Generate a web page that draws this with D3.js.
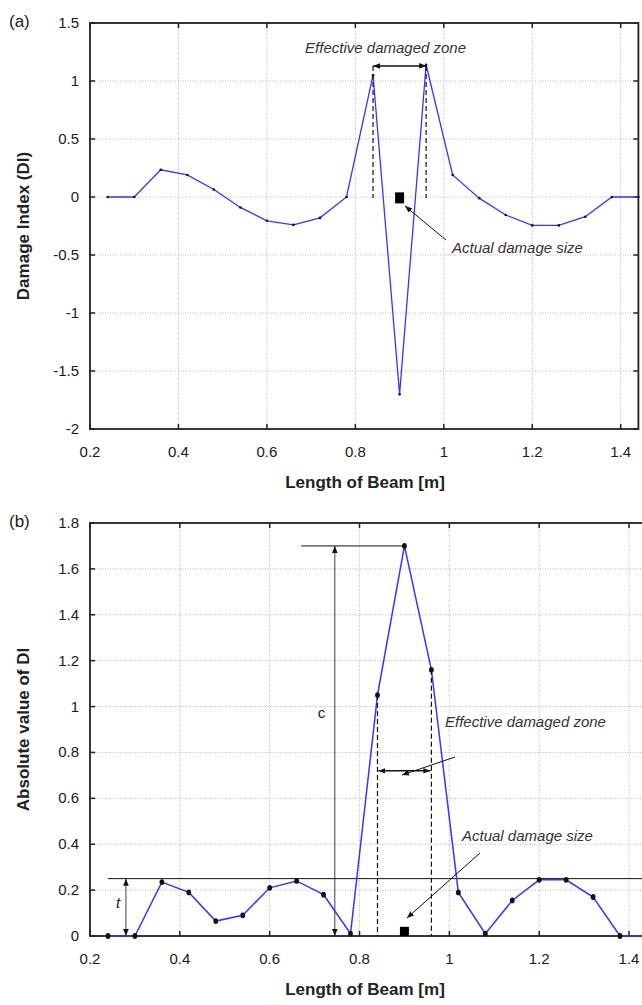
<!DOCTYPE html>
<meta charset="utf-8"/>
<style>
  body { margin: 0; background: #fff; }
  text { font-family: "Liberation Sans", Arial, sans-serif; fill: #1a1a1a; }
  .grid line { stroke: #b8b8b8; stroke-width: 1; stroke-dasharray: 1,1.5; }
  .tick-lbl { font-size: 15px; }
  .axis-title { font-size: 17px; font-weight: bold; fill: #222; }
  .note { font-size: 15px; font-style: italic; fill: #333; }
</style>
<body>
<svg width="642" height="1005"></svg>
</body>
<script src="https://d3js.org/d3.v7.min.js"></script>
<script>

  // beam positions (m) where the damage index was evaluated
  var beamX = [0.24, 0.30, 0.36, 0.42, 0.48, 0.54, 0.60, 0.66, 0.72, 0.78, 0.84,
    0.90, 0.96, 1.02, 1.08, 1.14, 1.20, 1.26, 1.32, 1.38, 1.44]

  // (a) damage index
  var damageIndex = [0, 0, 0.235, 0.19, 0.065, -0.09, -0.205, -0.24, -0.18, 0, 1.05,
    -1.70, 1.14, 0.19, -0.01, -0.155, -0.245, -0.245, -0.17, 0, 0]

  // (b) absolute value of DI
  var absDI = [0, 0, 0.235, 0.19, 0.065, 0.09, 0.21, 0.24, 0.18, 0.01, 1.05,
    1.70, 1.16, 0.19, 0.01, 0.155, 0.245, 0.245, 0.17, 0, 0]

  var xTicks = [0.2, 0.4, 0.6, 0.8, 1, 1.2, 1.4]
  var yTicksA = [-2, -1.5, -1, -0.5, 0, 0.5, 1, 1.5]
  var yTicksB = [0, 0.2, 0.4, 0.6, 0.8, 1, 1.2, 1.4, 1.6, 1.8]

  // annotation anchors (data units)
  var zoneA = [0.84, 0.96]
  var damageAt = 0.9
  var threshold = 0.25

  var svg = d3.select("svg")

  svg.append("defs").selectAll("marker")
    .data(["arr"])
    .enter().append("marker")
    .attr("id", String)
    .attr("viewBox", "0 -5 10 10")
    .attr("refX", 10)
    .attr("refY", 0)
    .attr("markerWidth", 7)
    .attr("markerHeight", 7)
    .attr("markerUnits", "userSpaceOnUse")
    .attr("orient", "auto-start-reverse")
    .append("path")
    .attr("d", "M0,-4L10,0L0,4Z")
    .attr("fill", "#111")

  function panel(opt) {
    var x = d3.scaleLinear().domain(opt.xDomain).range(opt.xRange)
    var y = d3.scaleLinear().domain(opt.yDomain).range(opt.yRange)
    var g = svg.append("g")
    var x0 = opt.xRange[0], x1 = opt.xRange[1], y0 = opt.yRange[0], y1 = opt.yRange[1]

    var grid = g.append("g").attr("class", "grid")
    grid.selectAll(".gx").data(xTicks.slice(1)).enter().append("line")
      .attr("x1", d => x(d)).attr("x2", d => x(d)).attr("y1", y0).attr("y2", y1)
    grid.selectAll(".gy").data(opt.yTicks.slice(1, -1)).enter().append("line")
      .attr("x1", x0).attr("x2", x1).attr("y1", d => y(d)).attr("y2", d => y(d))

    // ticks on all four sides, pointing inward
    var tk = g.append("g").attr("stroke", "#222").attr("stroke-width", 1.5)
    xTicks.forEach(function (d) {
      tk.append("line").attr("x1", x(d)).attr("x2", x(d)).attr("y1", y0).attr("y2", y0 - 5)
      tk.append("line").attr("x1", x(d)).attr("x2", x(d)).attr("y1", y1).attr("y2", y1 + 5)
    })
    opt.yTicks.forEach(function (d) {
      tk.append("line").attr("x1", x0).attr("x2", x0 + 5).attr("y1", y(d)).attr("y2", y(d))
      tk.append("line").attr("x1", x1).attr("x2", x1 - 5).attr("y1", y(d)).attr("y2", y(d))
    })

    g.append("rect")
      .attr("x", x0).attr("y", y1).attr("width", x1 - x0).attr("height", y0 - y1)
      .attr("fill", "none").attr("stroke", "#222").attr("stroke-width", 1.8)

    g.selectAll(".xl").data(xTicks).enter().append("text")
      .attr("class", "tick-lbl")
      .attr("x", d => x(d)).attr("y", y0 + 28)
      .attr("text-anchor", "middle")
      .text(d => d)
    g.selectAll(".yl").data(opt.yTicks).enter().append("text")
      .attr("class", "tick-lbl")
      .attr("x", x0 - 11).attr("y", d => y(d) + 5)
      .attr("text-anchor", "end")
      .text(d => d)

    g.append("text").attr("class", "axis-title")
      .attr("x", 365).attr("y", y0 + 59).attr("text-anchor", "middle")
      .text("Length of Beam [m]")
    g.append("text").attr("class", "axis-title")
      .attr("transform", "translate(29," + ((y0 + y1) / 2) + ") rotate(-90)")
      .attr("text-anchor", "middle")
      .text(opt.yTitle)
    g.append("text")
      .attr("x", 9).attr("y", y1 + 4)
      .style("font-size", "17px")
      .text(opt.tag)

    return { g: g, x: x, y: y }
  }

  function arrowLine(g, xa, ya, xb, yb, both, w) {
    var l = g.append("line")
      .attr("x1", xa).attr("y1", ya).attr("x2", xb).attr("y2", yb)
      .attr("stroke", "#111").attr("stroke-width", w || 1)
      .attr("marker-end", "url(#arr)")
    if (both) l.attr("marker-start", "url(#arr)")
    return l
  }

  // ---------------- (a) ----------------
  var A = panel({
    xDomain: [0.2, 1.44], xRange: [90, 638.4],
    yDomain: [-2, 1.5], yRange: [429, 23],
    yTicks: yTicksA, yTitle: "Damage Index (DI)", tag: "(a)"
  })

  var ptsA = beamX.map((d, i) => [d, damageIndex[i]])
  A.g.append("path").datum(ptsA)
    .attr("fill", "none").attr("stroke", "#3535ff").attr("stroke-width", 1.3)
    .attr("d", d3.line().x(d => A.x(d[0])).y(d => A.y(d[1])))
  A.g.selectAll(".pa").data(ptsA).enter().append("circle")
    .attr("cx", d => A.x(d[0])).attr("cy", d => A.y(d[1])).attr("r", 1.3)
    .attr("fill", "#111")

  // effective zone: dashed verticals + double arrow
  zoneA.forEach(function (z) {
    A.g.append("line")
      .attr("x1", A.x(z)).attr("x2", A.x(z)).attr("y1", A.y(1.13)).attr("y2", A.y(-0.01))
      .attr("stroke", "#111").attr("stroke-width", 1.2).attr("stroke-dasharray", "5,3")
  })
  arrowLine(A.g, A.x(zoneA[0]), A.y(1.13), A.x(zoneA[1]), A.y(1.13), true, 1.5)
  A.g.append("text").attr("class", "note")
    .attr("x", A.x(0.9) - 14).attr("y", 53).attr("text-anchor", "middle")
    .text("Effective damaged zone")

  // actual damage size
  A.g.append("rect")
    .attr("x", A.x(damageAt) - 4.5).attr("y", A.y(0.04))
    .attr("width", 9).attr("height", A.y(-0.055) - A.y(0.04))
    .attr("fill", "#000")
  arrowLine(A.g, 446, 240, 405, 206, false, 1)
  A.g.append("text").attr("class", "note")
    .attr("x", 452).attr("y", 253)
    .text("Actual damage size")

  // ---------------- (b) ----------------
  var B = panel({
    xDomain: [0.2, 1.44], xRange: [90, 647],
    yDomain: [0, 1.8], yRange: [936, 523],
    yTicks: yTicksB, yTitle: "Absolute value of DI", tag: "(b)"
  })

  // threshold line t
  B.g.append("line")
    .attr("x1", B.x(0.24)).attr("x2", 642).attr("y1", B.y(threshold)).attr("y2", B.y(threshold))
    .attr("stroke", "#111").attr("stroke-width", 1)
  arrowLine(B.g, B.x(0.28), B.y(threshold), B.x(0.28), B.y(0), true, 0.8)
  B.g.append("text").attr("x", B.x(0.28) - 10).attr("y", B.y(0.12))
    .style("font-size", "15px").style("font-style", "italic").text("t")

  // peak line c
  B.g.append("line")
    .attr("x1", B.x(0.67)).attr("x2", B.x(0.9)).attr("y1", B.y(1.7)).attr("y2", B.y(1.7))
    .attr("stroke", "#111").attr("stroke-width", 1)
  arrowLine(B.g, B.x(0.745), B.y(0.0), B.x(0.745), B.y(1.7), true, 0.8)
  B.g.append("text").attr("x", B.x(0.745) - 17).attr("y", B.y(0.95))
    .style("font-size", "15px").text("c")

  var ptsB = beamX.map((d, i) => [d, absDI[i]])
  B.g.append("path").datum(ptsB)
    .attr("fill", "none").attr("stroke", "#3535ff").attr("stroke-width", 1.5)
    .attr("d", d3.line().x(d => B.x(d[0])).y(d => B.y(d[1])))
  B.g.selectAll(".pb").data(ptsB).enter().append("ellipse")
    .attr("cx", d => B.x(d[0])).attr("cy", d => B.y(d[1])).attr("rx", 2.4).attr("ry", 2.9)
    .attr("fill", "#111")

  // effective zone dashed
  ;[[0.84, 1.05], [0.96, 1.16]].forEach(function (z) {
    B.g.append("line")
      .attr("x1", B.x(z[0])).attr("x2", B.x(z[0])).attr("y1", B.y(z[1])).attr("y2", B.y(0))
      .attr("stroke", "#111").attr("stroke-width", 1.2).attr("stroke-dasharray", "5,3")
  })
  arrowLine(B.g, B.x(0.84) + 1, B.y(0.72), B.x(0.96) - 1, B.y(0.72), true, 1.5)
  arrowLine(B.g, 455, 757, 402, 775, false, 1)
  B.g.append("text").attr("class", "note")
    .attr("x", 445).attr("y", 727)
    .text("Effective damaged zone")

  B.g.append("rect")
    .attr("x", B.x(damageAt) - 4.5).attr("y", B.y(0.04))
    .attr("width", 9).attr("height", B.y(0) - B.y(0.04))
    .attr("fill", "#000")
  arrowLine(B.g, 480, 853, 407, 918, false, 1)
  B.g.append("text").attr("class", "note")
    .attr("x", 462).attr("y", 841)
    .text("Actual damage size")

</script>
